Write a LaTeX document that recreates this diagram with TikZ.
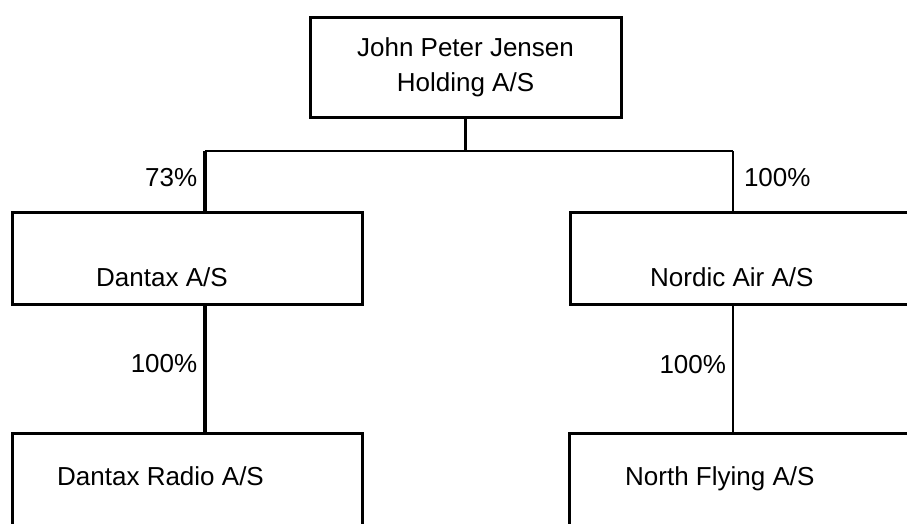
\documentclass[tikz,border=0pt]{standalone}
\usepackage{fontspec}
\setmainfont{Liberation Sans}
\usepackage{tikz}
\usetikzlibrary{positioning}
\tikzset{
  company/.style={rectangle, draw=black, line width=3pt, minimum width=350pt, minimum height=92pt, inner sep=0pt, outer sep=0pt},
  boxname/.style={inner sep=0pt, anchor=base west},
  share/.style={inner sep=0pt, font=\fontsize{26}{30}\selectfont},
  thickline/.style={line width=3.5pt},
  thinline/.style={line width=2pt},
}

\begin{document}
\begin{tikzpicture}[x=1pt, y=-1pt, font=\fontsize{26}{35}\selectfont]
  \useasboundingbox[fill=white] (0,0) rectangle (907,523);
  \clip (0,0) rectangle (907,523);
  \node[company, minimum width=311pt, minimum height=100pt, align=center] (holding) at (465.5,67) {John Peter Jensen\\Holding A/S};
  \node[company, label={[boxname, xshift=84pt, yshift=-74pt]north west:Dantax A/S}] (dantax) at (187,258) {};
  \node[company, label={[boxname, xshift=80pt, yshift=-74pt]north west:Nordic Air A/S}] (nordic) at (745,258) {};
  \node[company, label={[boxname, xshift=45pt, yshift=-52pt]north west:Dantax Radio A/S}] (dantaxradio) at (187,479) {};
  \node[company, label={[boxname, xshift=56pt, yshift=-52pt]north west:North Flying A/S}] (northflying) at (744,479) {};
  % junctions
  \coordinate (bar) at (465.5,151);
  \coordinate (jl) at (205,151);
  \coordinate (jr) at (733,151);
  % ownership lines
  \draw[thickline] (holding.south) -- (bar);
  \draw[line width=2.5pt] (jl) -- (jr);
  \draw[thickline] (jl) -- node[share, pos=.43, left=6pt]{73\%} (jl |- dantax.north);
  \draw[thinline] (jr) -- node[share, pos=.43, right=10pt]{100\%} (jr |- nordic.north);
  \draw[thickline] (jl |- dantax.south) -- node[share, pos=.46, left=6pt]{100\%} (jl |- dantaxradio.north);
  \draw[thinline] (jr |- nordic.south) -- node[share, pos=.47, left=6pt]{100\%} (jr |- northflying.north);
\end{tikzpicture}
\end{document}
